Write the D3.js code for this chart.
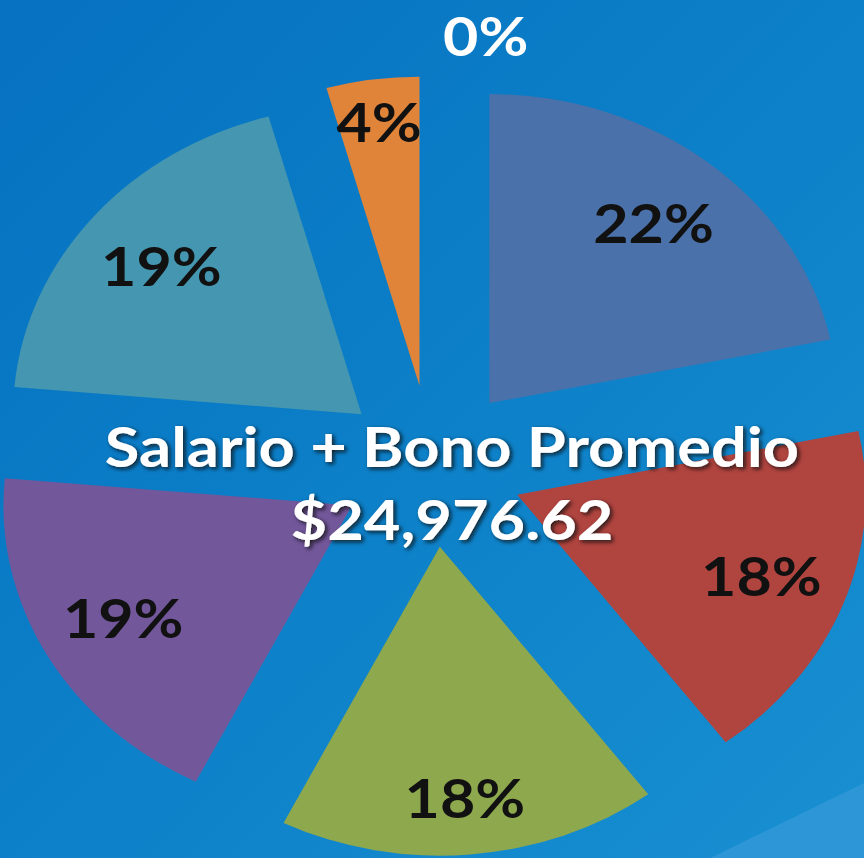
<!DOCTYPE html>
<html>
<head>
<meta charset="utf-8">
<script src="https://cdn.jsdelivr.net/npm/d3@7"></script>
<style>
  html, body { margin: 0; padding: 0; background: #0a78c4; }
  svg { display: block; }
</style>
</head>
<body>
<div id="pie_chart"></div>
<script>
    // slice shares (percent), clockwise from 12 o'clock
    const categories = ["Cat 1", "Cat 2", "Cat 3", "Cat 4", "Cat 5", "Cat 6", "Cat 7"];
    const shares = [21.7, 18.1, 17.6, 19.0, 19.3, 4.3, 0];
    const sliceColors = ["#4a71a9", "#b0443f", "#8ea84e", "#72579a", "#4596b0", "#e0843a", "#4a71a9"];
    const titleLines = ["Salario + Bono Promedio", "$24,976.62"];

    function plot_pie() {
        const width = 864, height = 858;
        const r = 309;          // outer radius
        const explode = 81;     // distance each slice is pulled out
        const stretch = 1.128;  // the picture is wider than tall
        const cx = 431.8, cy = 466;

        const svg = d3.select("#pie_chart")
            .append("svg")
            .attr("width", width)
            .attr("height", height);

        const defs = svg.append("defs");
        const grad = defs.append("linearGradient")
            .attr("id", "bg")
            .attr("x1", 0).attr("y1", 0).attr("x2", 1).attr("y2", 1);
        grad.append("stop").attr("offset", 0).attr("stop-color", "#0671c1");
        grad.append("stop").attr("offset", 0.5).attr("stop-color", "#0c80c8");
        grad.append("stop").attr("offset", 1).attr("stop-color", "#1990d2");

        const shadow = defs.append("filter")
            .attr("id", "shadow")
            .attr("x", "-10%").attr("y", "-30%")
            .attr("width", "120%").attr("height", "160%");
        shadow.append("feDropShadow")
            .attr("dx", 2).attr("dy", 2)
            .attr("stdDeviation", 2)
            .attr("flood-color", "#111111")
            .attr("flood-opacity", 0.85);

        svg.append("rect")
            .attr("width", width)
            .attr("height", height)
            .attr("fill", "url(#bg)");
        // lighter band in the corner of the slide background
        svg.append("path")
            .attr("d", "M710,858 L864,783 L864,858 Z")
            .attr("fill", "#2c96d6");

        const pie = d3.pie().sort(null).value(d => d);
        const arcs = pie(shares);
        const arc = d3.arc().innerRadius(0).outerRadius(r);

        const g = svg.append("g")
            .attr("transform", "translate(" + cx + "," + cy + ") scale(" + stretch + ",1)");

        const mid = d => (d.startAngle + d.endAngle) / 2;
        const shift = d => [explode * Math.sin(mid(d)), -explode * Math.cos(mid(d))];

        const slices = g.selectAll("g.slice")
            .data(arcs)
            .join("g")
            .attr("class", "slice")
            .attr("transform", d => "translate(" + shift(d) + ")");

        slices.filter(d => d.value > 0)
            .append("path")
            .attr("d", arc)
            .attr("fill", (d, i) => sliceColors[i]);

        // label distance from the slice tip (thin and bottom slices sit further out)
        function labelDist(d) {
            if (d.endAngle - d.startAngle < 0.3) return r * 0.86;
            const below = Math.max(0, -Math.cos(mid(d)));
            return 231 + 22 * Math.pow(below, 4);
        }

        slices.append("text")
            .attr("x", d => d.value > 0 ? labelDist(d) * Math.sin(mid(d)) : 10)
            .attr("y", d => d.value > 0 ? -labelDist(d) * Math.cos(mid(d)) : -r - 20)
            .attr("dy", d => d.value > 0 ? "0.36em" : 0)
            .attr("text-anchor", d => d.value > 0 ? "middle" : "start")
            .style("font-family", "Lato, 'Open Sans', sans-serif")
            .style("font-weight", 700)
            .style("font-size", "54px")
            .style("fill", d => d.value > 0 ? "#111111" : "#ffffff")
            .text(d => Math.round(d.value) + "%");

        const title = svg.append("g")
            .attr("transform", "translate(452,0) scale(" + stretch + ",1)")
            .attr("filter", "url(#shadow)");
        title.selectAll("text")
            .data(titleLines)
            .join("text")
            .attr("x", 0)
            .attr("y", (d, i) => 467 + i * 73)
            .attr("text-anchor", "middle")
            .style("font-family", "Lato, 'Open Sans', sans-serif")
            .style("font-weight", 700)
            .style("font-size", "56px")
            .style("fill", "#ffffff")
            .text(d => d);
    }

    plot_pie();
</script>
</body>
</html>
